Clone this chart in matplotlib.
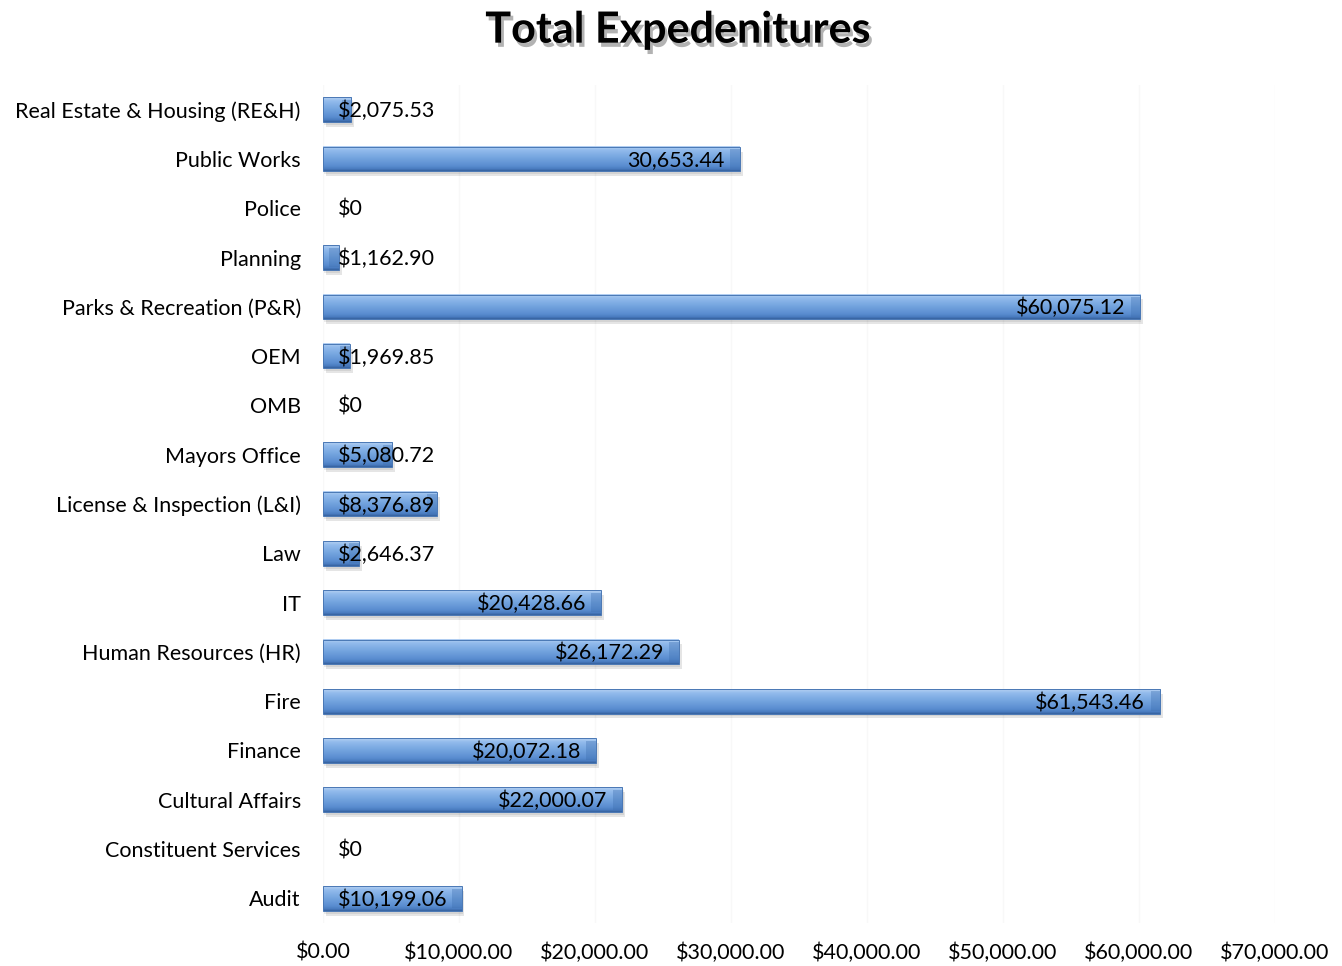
import numpy as np
import matplotlib.pyplot as plt
import matplotlib.patheffects as pe
from matplotlib.ticker import FuncFormatter
from matplotlib.colors import LinearSegmentedColormap

plt.rcParams['font.family'] = ['Lato', 'DejaVu Sans']

# bottom to top
departments = ["Audit", "Constituent Services", "Cultural Affairs", "Finance", "Fire",
               "Human Resources (HR)", "IT", "Law", "License & Inspection (L&I)",
               "Mayors Office", "OMB", "OEM", "Parks & Recreation (P&R)", "Planning",
               "Police", "Public Works", "Real Estate & Housing (RE&H)"]
spent = [10199.06, 0, 22000.07, 20072.18, 61543.46, 26172.29, 20428.66, 2646.37,
         8376.89, 5080.72, 0, 1969.85, 60075.12, 1162.90, 0, 30653.44, 2075.53]
bar_labels = ["$10,199.06", "$0", "$22,000.07", "$20,072.18", "$61,543.46",
              "$26,172.29", "$20,428.66", "$2,646.37", "$8,376.89", "$5,080.72",
              "$0", "$1,969.85", "$60,075.12", "$1,162.90", "$0", "30,653.44",
              "$2,075.53"]

fig = plt.figure(figsize=(13.42, 9.66), dpi=100)
ax = fig.add_axes([0.2407, 0.0445, 0.7094, 0.8675])

y = np.arange(len(departments))
h = 0.5
xmax = 70000

# vertical gradient, light on top, darker underneath
grad = np.linspace(0, 1, 64).reshape(-1, 1)
cmap = LinearSegmentedColormap.from_list(
    "bev", [(0, "#b4d0f2"), (0.15, "#93bbec"), (0.45, "#76a6e0"),
            (0.8, "#5a8dd0"), (0.92, "#4a7cc0"), (1, "#36629f")])

for yi, v in zip(y, spent):
    if v <= 0:
        continue
    # soft shadow below
    ax.barh(yi - 0.1, v, height=h, left=200, color="#000000", alpha=0.10, zorder=1)
    ax.barh(yi - 0.06, v, height=h, left=100, color="#000000", alpha=0.08, zorder=1)
    ax.imshow(grad, cmap=cmap, aspect="auto", extent=[0, v, yi - h / 2, yi + h / 2],
              zorder=2, interpolation="bilinear")
    ax.barh(yi, v, height=h, facecolor="none", edgecolor="#4a78b5", linewidth=0.7, zorder=3)
    # darker bevelled end cap
    cap = min(v, 700)
    ax.barh(yi, cap, left=v - cap, height=h * 0.8, color="#3d6eae", alpha=0.35, zorder=3)

ax.set_xlim(0, xmax)
ax.set_ylim(-0.5, len(departments) - 0.5)
ax.set_yticks(y)
ax.set_yticklabels(departments, fontsize=15.5)
ax.set_xticks(np.arange(0, xmax + 1, 10000))
ax.xaxis.set_major_formatter(FuncFormatter(lambda v, p: f"${v:,.2f}"))
ax.tick_params(axis="x", labelsize=15.5, length=0, pad=14)
ax.tick_params(axis="y", length=0, pad=16)
for s in ax.spines.values():
    s.set_visible(False)
ax.grid(axis="x", color="#f8f8f8", linewidth=1)
ax.set_axisbelow(True)

# data labels: right end inside the bar, but not left of a minimum position
fig.canvas.draw()
rend = fig.canvas.get_renderer()
px_per_unit = ax.transData.transform((1, 0))[0] - ax.transData.transform((0, 0))[0]
min_x = 15 / px_per_unit
pad = 15 / px_per_unit
for yi, v, lab in zip(y, spent, bar_labels):
    t = ax.text(0, yi - 0.03, lab, fontsize=15.5, va="center", ha="left", zorder=5)
    w = t.get_window_extent(rend).width / px_per_unit
    t.set_x(max(min_x, v - pad - w))

fig.suptitle("Total Expedenitures", fontsize=31, fontweight="bold", y=0.99,
             x=0.505, path_effects=[pe.withSimplePatchShadow(offset=(2, -3), alpha=0.3)])

fig.savefig("out.png", dpi=100)
